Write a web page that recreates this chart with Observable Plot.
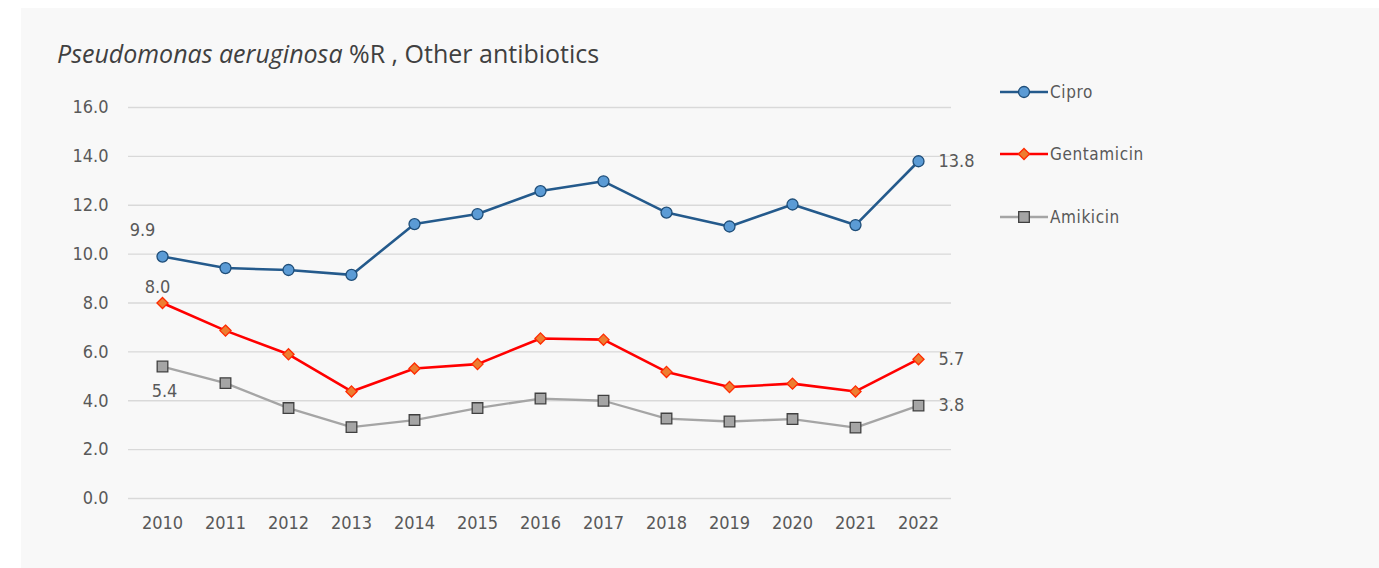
<!DOCTYPE html>
<html>
<head>
<meta charset="utf-8">
<script src="https://cdn.jsdelivr.net/npm/d3@7"></script>
<script src="https://cdn.jsdelivr.net/npm/@observablehq/plot@0.6"></script>
<style>
  html, body { margin: 0; padding: 0; background: #ffffff; }
  #page { position: relative; width: 1379px; height: 568px; overflow: hidden; }
  #panel { position: absolute; left: 21px; top: 8px; width: 1358px; height: 560px; background: #f8f8f8; }
  #title { position: absolute; left: 57px; top: 36px; font-family: "Open Sans", "Liberation Sans", sans-serif; font-size: 25px; color: #404040; white-space: nowrap; }
  #chart { position: absolute; left: 0; top: 0; }
  #legend { position: absolute; left: 1000px; top: 0; font-family: "DejaVu Sans Condensed", sans-serif; font-size: 17px; color: #595959; letter-spacing: 0.6px; }
  .lg { position: absolute; left: 0; height: 20px; white-space: nowrap; display: flex; align-items: center; }
  .lg svg { display: block; }
  .lg span { margin-left: 2px; }
</style>
</head>
<body>
<div id="page">
  <div id="panel"></div>
  <div id="title"><i>Pseudomonas aeruginosa</i> %R , Other antibiotics</div>
  <div id="chart"></div>
  <div id="legend"></div>
</div>
<script>
const years = ["2010","2011","2012","2013","2014","2015","2016","2017","2018","2019","2020","2021","2022"];
const cipro      = [9.9, 9.43, 9.35, 9.15, 11.23, 11.64, 12.58, 12.98, 11.7, 11.13, 12.03, 11.19, 13.8];
const gentamicin = [8.0, 6.87, 5.9, 4.38, 5.32, 5.5, 6.55, 6.5, 5.18, 4.56, 4.7, 4.38, 5.7];
const amikicin   = [5.4, 4.72, 3.7, 2.92, 3.21, 3.7, 4.09, 4.0, 3.27, 3.15, 3.25, 2.9, 3.8];
const seriesNames = ["Cipro", "Gentamicin", "Amikicin"];
const yTicks = [0, 2, 4, 6, 8, 10, 12, 14, 16];

const styles = {
  Cipro:      {line: "#245a8c", fill: "#5b9bd5", stroke: "#1f4e79", symbol: "circle",   r: 5.5, sw: 2.6},
  Gentamicin: {line: "#ff0000", fill: "#ed7d31", stroke: "#ff2a00", symbol: "diamond2", r: 5,   sw: 2.6},
  Amikicin:   {line: "#a5a5a5", fill: "#a5a5a5", stroke: "#404040", symbol: "square",   r: 6,   sw: 2.3}
};

const valuesBy = {Cipro: cipro, Gentamicin: gentamicin, Amikicin: amikicin};
const data = seriesNames.flatMap(s => years.map((y, i) => ({series: s, year: y, value: valuesBy[s][i]})));

const firstLabels = seriesNames.map(s => data.find(d => d.series === s && d.year === years[0]));
const lastLabels = seriesNames.map(s => data.find(d => d.series === s && d.year === years[years.length - 1]));
const fmt = d3.format(".1f");

const font = '"DejaVu Sans Condensed", sans-serif';
const labelColor = "#595959";

const marks = [
  Plot.ruleY(yTicks, {stroke: "#d9d9d9", strokeWidth: 1.3}),
  ...seriesNames.map(s => Plot.line(data.filter(d => d.series === s), {x: "year", y: "value", stroke: styles[s].line, strokeWidth: styles[s].sw})),
  ...seriesNames.map(s => Plot.dot(data.filter(d => d.series === s), {x: "year", y: "value", symbol: () => styles[s].symbol, r: styles[s].r, fill: styles[s].fill, stroke: styles[s].stroke, strokeWidth: 1.3})),
  Plot.text([firstLabels[0]], {x: "year", y: "value", text: d => fmt(d.value), dx: -20, dy: -26, fill: labelColor, fontSize: 18}),
  Plot.text([firstLabels[1]], {x: "year", y: "value", text: d => fmt(d.value), dx: -5, dy: -16, fill: labelColor, fontSize: 18}),
  Plot.text([firstLabels[2]], {x: "year", y: "value", text: d => fmt(d.value), dx: 2, dy: 25, fill: labelColor, fontSize: 18}),
  Plot.text(lastLabels, {x: "year", y: "value", text: d => fmt(d.value), dx: 20, dy: 0, textAnchor: "start", fill: labelColor, fontSize: 18})
];

const chart = Plot.plot({
  width: 980,
  height: 545,
  marginLeft: 128,
  marginRight: 29,
  marginTop: 107,
  marginBottom: 47,
  style: {background: "transparent", fontFamily: font, fontSize: "18px", color: labelColor, overflow: "visible"},
  x: {type: "point", domain: years, padding: 0.5, label: null},
  y: {domain: [0, 16], label: null},
  symbol: {type: "identity"},
  marks: [
    Plot.axisX({tickSize: 0, tickPadding: 18, fontSize: 18, fill: labelColor, label: null}),
    Plot.axisY({ticks: yTicks, tickFormat: fmt, tickSize: 0, tickPadding: 20, fontSize: 18, fill: labelColor, label: null}),
    ...marks
  ]
});
document.getElementById("chart").appendChild(chart);

// Legend
const legend = document.getElementById("legend");
const legendTops = [82, 144, 207];
seriesNames.forEach((s, i) => {
  const st = styles[s];
  const row = document.createElement("div");
  row.className = "lg";
  row.style.top = legendTops[i] + "px";
  const svg = d3.create("svg").attr("width", 48).attr("height", 20);
  svg.append("line").attr("x1", 0).attr("x2", 48).attr("y1", 10).attr("y2", 10).attr("stroke", st.line).attr("stroke-width", st.sw);
  const sym = st.symbol === "circle" ? d3.symbolCircle : st.symbol === "diamond2" ? d3.symbolDiamond2 : d3.symbolSquare;
  svg.append("path").attr("transform", "translate(24,10)").attr("d", d3.symbol(sym, Math.PI * st.r * st.r)())
     .attr("fill", st.fill).attr("stroke", st.stroke).attr("stroke-width", 1.3);
  row.appendChild(svg.node());
  const t = document.createElement("span");
  t.textContent = s;
  row.appendChild(t);
  legend.appendChild(row);
});
</script>
</body>
</html>
